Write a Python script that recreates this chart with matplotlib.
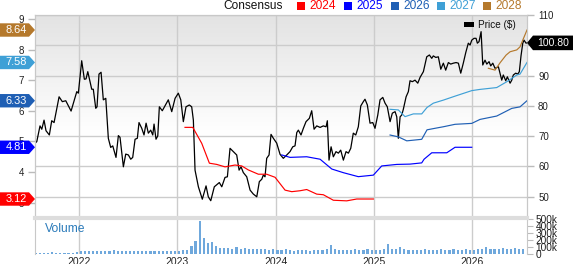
import numpy as np
import matplotlib
matplotlib.use('Agg')
import matplotlib.pyplot as plt
import matplotlib.transforms as mtransforms
from matplotlib.patches import Polygon, Rectangle
from matplotlib.colors import LinearSegmentedColormap

plt.rcParams['font.family'] = ['Liberation Sans', 'DejaVu Sans']

# ---- data (x in fractional years) ----
price_year = [2021.552, 2021.570, 2021.603, 2021.621, 2021.644, 2021.664, 2021.698, 2021.722, 2021.746, 2021.797,
              2021.830, 2021.865, 2021.919, 2021.977, 2021.993, 2022.027, 2022.054, 2022.071, 2022.089, 2022.129,
              2022.145, 2022.170, 2022.183, 2022.203, 2022.224, 2022.247, 2022.272, 2022.298, 2022.322, 2022.343,
              2022.376, 2022.400, 2022.417, 2022.451, 2022.475, 2022.502, 2022.526, 2022.546, 2022.570, 2022.593,
              2022.610, 2022.638, 2022.661, 2022.682, 2022.705, 2022.729, 2022.750, 2022.763, 2022.783, 2022.801,
              2022.817, 2022.847, 2022.908, 2022.943, 2022.977, 2023.010, 2023.035, 2023.061, 2023.088, 2023.122,
              2023.146, 2023.163, 2023.180, 2023.214, 2023.254, 2023.292, 2023.315, 2023.340, 2023.376, 2023.427,
              2023.452, 2023.485, 2023.509, 2023.536, 2023.570, 2023.604, 2023.628, 2023.648, 2023.671, 2023.706,
              2023.740, 2023.773, 2023.808, 2023.834, 2023.859, 2023.875, 2023.892, 2023.909, 2023.933, 2023.953,
              2023.977, 2024.011, 2024.045, 2024.078, 2024.113, 2024.146, 2024.174, 2024.197, 2024.215, 2024.231,
              2024.258, 2024.282, 2024.309, 2024.343, 2024.367, 2024.391, 2024.418, 2024.452, 2024.485, 2024.513,
              2024.526, 2024.543, 2024.564, 2024.587, 2024.614, 2024.638, 2024.662, 2024.689, 2024.716, 2024.740,
              2024.764, 2024.790, 2024.815, 2024.841, 2024.866, 2024.892, 2024.909, 2024.933, 2024.960, 2024.988,
              2025.011, 2025.039, 2025.062, 2025.090, 2025.113, 2025.136, 2025.164, 2025.187, 2025.215, 2025.232,
              2025.248, 2025.266, 2025.283, 2025.299, 2025.327, 2025.350, 2025.367, 2025.391, 2025.418, 2025.446,
              2025.469, 2025.503, 2025.537, 2025.564, 2025.588, 2025.604, 2025.629, 2025.655, 2025.680, 2025.706,
              2025.730, 2025.757, 2025.781, 2025.808, 2025.835, 2025.859, 2025.883, 2025.909, 2025.934, 2025.960,
              2025.978, 2025.995, 2026.018, 2026.039, 2026.052, 2026.069, 2026.090, 2026.107, 2026.130, 2026.148,
              2026.171, 2026.188, 2026.209, 2026.232, 2026.266, 2026.300, 2026.316, 2026.341, 2026.357, 2026.385,
              2026.402, 2026.418, 2026.442, 2026.463, 2026.479, 2026.496, 2026.514, 2026.527, 2026.547, 2026.557]
price = [67.7, 68.2, 73.4, 72.3, 75.3, 71.8, 70.4, 75.1, 74.5, 83.0,
         81.4, 81.7, 78.3, 84.7, 84.2, 94.9, 88.8, 88.9, 91.3, 85.5,
         85.5, 79.2, 79.7, 90.5, 91.1, 82.0, 82.5, 69.3, 66.3, 66.8,
         63.0, 70.2, 69.6, 59.9, 64.1, 63.8, 62.4, 63.0, 69.0, 69.3,
         74.5, 72.6, 70.4, 74.3, 71.0, 72.0, 70.4, 74.0, 69.0, 70.1,
         79.7, 78.4, 82.0, 78.1, 82.5, 84.2, 82.0, 74.8, 79.7, 80.3,
         79.7, 75.3, 58.8, 53.3, 49.2, 53.6, 50.0, 48.7, 53.3, 54.7,
         53.3, 56.4, 56.6, 66.0, 64.9, 63.8, 58.8, 59.9, 58.0, 56.6,
         52.2, 50.9, 50.0, 55.0, 55.8, 57.2, 56.6, 62.7, 63.8, 70.6,
         69.3, 67.7, 64.0, 62.7, 63.8, 64.9, 66.5, 66.8, 71.2, 72.0,
         70.4, 72.6, 74.8, 75.9, 78.4, 72.3, 73.4, 72.9, 73.4, 73.1,
         75.1, 62.1, 66.5, 63.2, 64.9, 64.4, 65.4, 62.1, 64.9, 64.4,
         66.0, 71.0, 70.4, 73.1, 80.0, 81.4, 82.2, 80.3, 74.3, 74.5,
         72.6, 77.0, 82.0, 82.8, 80.9, 79.7, 74.8, 77.6, 78.1, 76.4,
         69.3, 76.4, 77.0, 78.9, 83.0, 84.7, 88.3, 88.0, 88.5, 87.5,
         89.4, 91.3, 96.2, 96.8, 95.7, 96.5, 96.0, 96.2, 92.1, 94.1,
         91.8, 94.3, 93.8, 94.1, 94.3, 94.1, 90.8, 94.1, 97.6, 100.7,
         100.1, 101.7, 102.3, 102.3, 100.7, 101.2, 104.5, 93.5, 95.1, 93.8,
         94.6, 93.2, 94.1, 92.4, 92.9, 88.5, 90.2, 88.3, 89.6, 87.5,
         88.5, 90.2, 90.8, 90.5, 91.3, 96.5, 100.7, 101.7, 100.7, 100.8]

eps24_year = [2023.078, 2023.157, 2023.248, 2023.326, 2023.401, 2023.485, 2023.587, 2023.655, 2023.722, 2023.824,
              2023.909, 2023.994, 2024.096, 2024.164, 2024.248, 2024.316, 2024.418, 2024.485, 2024.587, 2024.723,
              2024.825, 2024.994]
eps24 = [5.46, 5.46, 4.94, 4.29, 4.25, 4.17, 4.23, 4.20, 4.07, 3.93,
         3.93, 3.83, 3.41, 3.36, 3.39, 3.43, 3.28, 3.26, 3.08, 3.06,
         3.12, 3.12]

eps25_year = [2024.062, 2024.146, 2024.316, 2024.452, 2024.571, 2024.689, 2024.841, 2024.994, 2025.079, 2025.232,
              2025.367, 2025.486, 2025.510, 2025.588, 2025.741, 2025.825, 2025.995]
eps25 = [4.56, 4.48, 4.50, 4.42, 4.10, 3.98, 3.85, 3.90, 4.20, 4.25,
         4.26, 4.30, 4.42, 4.63, 4.63, 4.81, 4.81]

eps26_year = [2025.164, 2025.248, 2025.334, 2025.486, 2025.540, 2025.622, 2025.706, 2025.825, 2025.995, 2026.079,
              2026.249, 2026.402, 2026.486, 2026.557]
eps26 = [5.21, 5.15, 5.02, 5.07, 5.38, 5.43, 5.48, 5.56, 5.59, 5.72,
         5.83, 6.08, 6.13, 6.33]

eps27_year = [2025.164, 2025.248, 2025.316, 2025.401, 2025.486, 2025.540, 2025.604, 2025.706, 2025.825, 2025.995,
              2026.079, 2026.249, 2026.351, 2026.453, 2026.486, 2026.557]
eps27 = [6.05, 6.03, 5.81, 5.90, 5.90, 6.11, 6.25, 6.35, 6.48, 6.66,
         6.70, 6.76, 6.95, 7.17, 7.20, 7.58]

eps28_year = [2026.164, 2026.232, 2026.283, 2026.344, 2026.385, 2026.453, 2026.486, 2026.514, 2026.557]
eps28 = [7.39, 7.33, 7.57, 7.82, 7.93, 7.99, 8.09, 8.31, 8.64]

# volume in thousands, semi-monthly
vol_start = 2021.56
volume = [18, 20, 17, 19, 22, 20, 18, 17, 20, 19, 22,
          45, 40, 38, 42, 40, 45, 38, 42, 60, 40, 38, 42, 45, 38, 40, 44, 40, 38, 42, 40, 45, 38, 42, 40,
          50, 60, 55, 120, 180, 470, 230, 160, 170, 120, 90, 80, 85, 75, 100, 70, 80, 65, 70, 75, 65, 70, 60, 65,
          60, 55, 65, 55, 50, 60, 55, 60, 50, 55, 60, 55, 65, 130, 70, 55, 60, 55, 60, 65, 55, 60, 70, 55,
          55, 60, 65, 150, 70, 65, 100, 70, 60, 55, 60, 55, 65, 60, 55, 60, 65, 55, 60, 65, 55, 60, 70, 55,
          60, 65, 70, 95, 70, 65, 70, 80, 75, 70, 80, 75, 70]
vol_year = vol_start + np.arange(len(volume)) / 24.0

years = [2022, 2023, 2024, 2025, 2026]
series = ['2024', '2025', '2026', '2027', '2028']
colors = ['#ff0000', '#0000ff', '#1f5fb4', '#3fa0d6', '#b5792c']
last_price = 100.80

# ---- layout ----
W, H = 573, 264
fig = plt.figure(figsize=(W / 100, H / 100), dpi=100)


def rect(x0, y0, x1, y1):
    return [x0 / W, 1 - y1 / H, (x1 - x0) / W, (y1 - y0) / H]


grid_c = '#cccccc'
ax_p = fig.add_axes(rect(35, 15, 527, 218))
ax_e = ax_p.twinx()
ax_v = fig.add_axes(rect(35, 218, 527, 254))

# background gradient
cmap = LinearSegmentedColormap.from_list('bg', ['#e3e3e3', '#ffffff'])
grad = np.clip(np.linspace(0, 1.7, 256), 0, 1).reshape(-1, 1)
ax_p.imshow(grad, cmap=cmap, extent=(0, 1, 0, 1), transform=ax_p.transAxes,
            aspect='auto', zorder=0, interpolation='bilinear')

xmin, xmax = 2021.552, 2026.557
ax_p.plot(price_year, price, color='black', lw=0.9, zorder=3)
ax_p.set_xlim(xmin, xmax)
ax_p.set_ylim(43, 110)
ax_p.set_yticks([50, 60, 70, 80, 90, 100, 110])
ax_p.set_xticks(years)
ax_p.grid(True, color=grid_c, lw=1)
ax_p.set_axisbelow(True)
ax_p.yaxis.set_ticks_position('right')
ax_p.tick_params(axis='x', length=0, labelbottom=False)
ax_p.tick_params(axis='y', length=5, width=1, color='#bbbbbb', pad=3,
                 labelsize=7, labelcolor='#222222')

for yr, vals, c in zip([eps24_year, eps25_year, eps26_year, eps27_year, eps28_year],
                       [eps24, eps25, eps26, eps27, eps28], colors):
    ax_e.plot(yr, vals, color=c, lw=0.85)
ax_e.set_xlim(xmin, xmax)
ax_e.set_ylim(2.50, 9.13)
ax_e.set_yticks([3, 4, 5, 6, 7, 8, 9])
ax_e.yaxis.set_ticks_position('left')
ax_e.tick_params(axis='y', length=5, width=1, color='#bbbbbb', pad=3,
                 labelsize=7, labelcolor='#222222')

for a in (ax_p, ax_e):
    for s in a.spines.values():
        s.set_color('#c8c8c8')
    a.spines['bottom'].set_visible(False)

# volume panel
ax_v.bar(vol_year, volume, width=0.022, color='#6fa8dc', edgecolor='none')
ax_v.set_xlim(xmin, xmax)
ax_v.set_ylim(0, 515)
ax_v.set_xticks(years)
ax_v.set_xticklabels([str(y) for y in years])
ax_v.grid(True, axis='x', color=grid_c, lw=1)
ax_v.set_axisbelow(True)
ax_v.yaxis.tick_right()
ax_v.set_yticks([0, 100, 200, 300, 400, 500])
ax_v.set_yticklabels(['0', '100k', '200k', '300k', '400k', '500k'])
ax_v.tick_params(axis='y', length=4, color='#bbbbbb', pad=2, labelsize=7.3, labelcolor='#222222')
ax_v.tick_params(axis='x', length=0, pad=2, labelsize=7.5, labelcolor='#222222')
ax_v.set_facecolor('white')
for s in ('left', 'right'):
    ax_v.spines[s].set_color('#c8c8c8')
ax_v.spines['bottom'].set_visible(False)
ax_v.spines['top'].set_color('#dddddd')
ax_v.spines['top'].set_linewidth(3)
ax_v.text(45 / W, 1 - 229 / H, 'Volume', transform=fig.transFigure, color='#2b7bba',
          fontsize=8.7, ha='left', va='center')

# top legend
fig.text(223 / W, 1 - 6 / H, 'Consensus', fontsize=8.6, color='#111111', ha='left', va='center')
sq_x = [297, 344, 391, 437, 483]
for sx, lab, c in zip(sq_x, series, colors):
    fig.add_artist(Rectangle((sx / W, 1 - 10 / H), 8 / W, 8 / H, transform=fig.transFigure,
                             facecolor=c, edgecolor='none'))
    fig.text((sx + 12) / W, 1 - 6 / H, lab, fontsize=8.6, color=c, ha='left', va='center')

# price legend
fig.add_artist(Rectangle((464 / W, 1 - 27 / H), 10 / W, 5 / H, transform=fig.transFigure,
                         facecolor='black', edgecolor='none'))
fig.text(478 / W, 1 - 25 / H, 'Price ($)', fontsize=7.2, color='#111111', ha='left', va='center')

# value tags
blend_e = mtransforms.blended_transform_factory(fig.transFigure, ax_e.transData)
left_verts = [(0, 0), (-0.06, 0.067), (-0.35, 0.067), (-0.35, -0.067), (-0.06, -0.067)]
for vals, c in zip([eps24, eps25, eps26, eps27, eps28], colors):
    v = vals[-1]
    tr = fig.dpi_scale_trans + mtransforms.ScaledTranslation(35 / W, v, blend_e)
    fig.add_artist(Polygon(left_verts, closed=True, transform=tr, facecolor=c,
                           edgecolor='none', zorder=5))
    fig.text(-0.185, 0, '%.2f' % v, transform=tr, color='white', fontsize=7.9,
             ha='center', va='center', zorder=6)

blend_p = mtransforms.blended_transform_factory(fig.transFigure, ax_p.transData)
tr = fig.dpi_scale_trans + mtransforms.ScaledTranslation(527 / W, last_price, blend_p)
right_verts = [(0, 0), (0.06, 0.073), (0.46, 0.073), (0.46, -0.073), (0.06, -0.073)]
fig.add_artist(Polygon(right_verts, closed=True, transform=tr, facecolor='black',
                       edgecolor='none', zorder=5))
fig.text(0.265, 0, '%.2f' % last_price, transform=tr, color='white', fontsize=7.5,
         ha='center', va='center', zorder=6)

fig.savefig('out.png', dpi=100)
